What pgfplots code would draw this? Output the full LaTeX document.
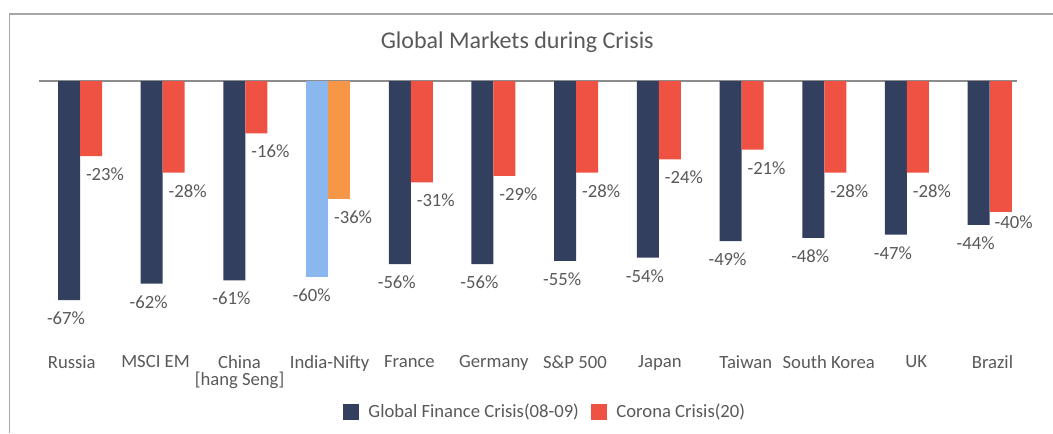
\documentclass[border=0pt]{standalone}
\usepackage{pgfplots}
\pgfplotsset{compat=1.18}
\usepackage{fontspec}
\setmainfont{Carlito}

\definecolor{gfcblue}{HTML}{333F5F}
\definecolor{coronared}{HTML}{EF5243}
\definecolor{indiablue}{HTML}{8AB7EE}
\definecolor{indiaorange}{HTML}{F79646}
\definecolor{txtgray}{HTML}{595959}
\definecolor{linegray}{HTML}{8C8C8C}
\definecolor{framegray}{HTML}{A6A6A6}

\newcommand{\lblfont}{\fontsize{14}{12.75}\selectfont}

\begin{document}
\begin{tikzpicture}
% outer chart frame (only left and top edges are in view)
\draw[framegray, line width=1.2pt] (7.2pt,-324.75pt) -- (7.2pt,-10.5pt) -- (789.75pt,-10.5pt);

\begin{axis}[
    at={(29.5pt,-60.75pt)}, anchor=north west,
    scale only axis,
    width=733pt, height=196.2pt,
    xmin=-0.492, xmax=11.327,
    ymin=-80, ymax=0,
    ybar, bar width=16.5pt,
    axis line style={draw=none},
    ytick=\empty,
    % category names sit slightly off the bar centres, as in the original
    xtick={-0.100,0.913,1.929,3.019,3.984,5.004,5.985,7.013,8.051,9.054,10.112,11.034},
    xticklabels={Russia, MSCI EM, {China\\{[hang Seng]}}, India-Nifty, France, Germany, S\&P 500, Japan, Taiwan, South Korea, UK, Brazil},
    xtick style={draw=none},
    xticklabel style={font=\lblfont, text=txtgray, align=center, anchor=north, inner sep=0pt, yshift=-5.25pt},
    extra y ticks={0},
    extra y tick labels={},
    extra y tick style={grid=major, major grid style={draw=linegray, line width=1.2pt}, tick style={draw=none}},
    title={Global Markets during Crisis},
    title style={at={(0.489,1)}, anchor=base, yshift=18.2pt, font=\fontsize{18}{20}\selectfont, text=txtgray},
    nodes near coords={\pgfmathprintnumber[assume math mode=true]{\pgfplotspointmeta}\%},
    every node near coord/.append style={font=\lblfont, text=txtgray, anchor=north, yshift=-5.25pt},
    legend style={at={(0.518,-0.2653)}, anchor=center, draw=none, fill=none, font=\lblfont, text=txtgray,
        legend columns=2, /tikz/every even column/.append style={column sep=7.3pt}},
    legend image code/.code={\fill[#1] (0pt,-6pt) rectangle (12pt,6pt); \path (16.8pt,0pt);},
]
\addplot[fill=gfcblue, draw=none, bar shift=-8.25pt,
    every node near coord/.append style={xshift=-2.25pt}]
    coordinates {(0,-67) (1,-62) (2,-61) (4,-56) (5,-56) (6,-55) (7,-54) (8,-49) (9,-48) (10,-47) (11,-44)};
\addlegendentry{Global Finance Crisis(08-09)}
\addplot[fill=coronared, draw=none, bar shift=8.25pt,
    every node near coord/.append style={xshift=10.5pt}]
    coordinates {(0,-23) (1,-28) (2,-16) (4,-31) (5,-29) (6,-28) (7,-24) (8,-21) (9,-28) (10,-28)};
\addlegendentry{Corona Crisis(20)}
% India-Nifty is highlighted in its own colours
\addplot[forget plot, fill=indiablue, draw=none, bar shift=-8.25pt,
    every node near coord/.append style={xshift=-4pt}]
    coordinates {(3,-60)};
\addplot[forget plot, fill=indiaorange, draw=none, bar shift=8.25pt,
    every node near coord/.append style={xshift=10.5pt}]
    coordinates {(3,-36)};
% Brazil corona label sits a little higher
\addplot[forget plot, fill=coronared, draw=none, bar shift=8.25pt,
    every node near coord/.append style={xshift=9.75pt, yshift=5.5pt}]
    coordinates {(11,-40)};
\end{axis}

\pgfresetboundingbox
\useasboundingbox (0pt,0pt) rectangle (789.75pt,-324.75pt);
\end{tikzpicture}
\end{document}
